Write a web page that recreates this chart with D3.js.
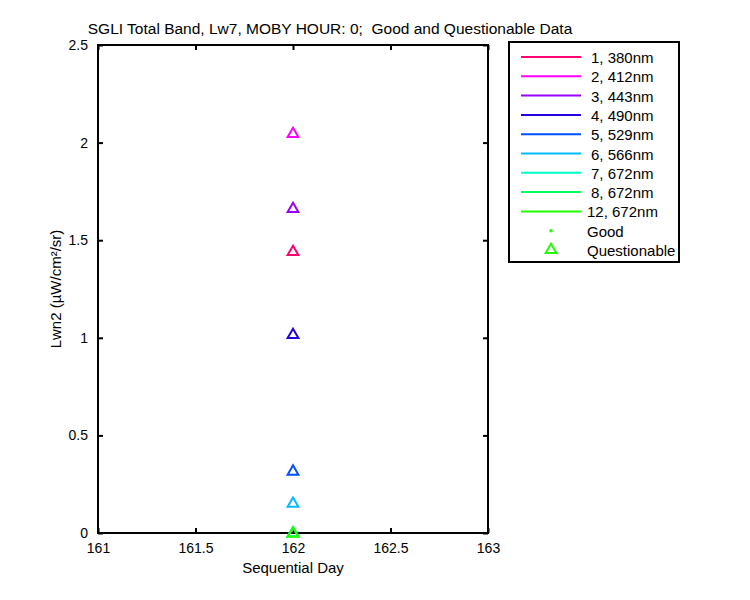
<!DOCTYPE html>
<html>
<head>
<meta charset="utf-8">
<script src="https://cdn.jsdelivr.net/npm/d3@7"></script>
<style>
  body { margin: 0; background: #fff; }
  text { font-family: "Liberation Sans", Arial, sans-serif; }
</style>
</head>
<body>
<div class="chart"></div>
<script>
// band names shown in the legend
var bands = ["1, 380nm", "2, 412nm", "3, 443nm", "4, 490nm", "5, 529nm", "6, 566nm", "7, 672nm", "8, 672nm", "12, 672nm"];
var bandColors = ["#ff0070", "#ff00ff", "#9900ff", "#2200e0", "#0050ff", "#00bbff", "#00ffcc", "#00ff66", "#22ff00"];

// one questionable point per band, all on day 162
var days = [162, 162, 162, 162, 162, 162, 162, 162, 162];
var lwn = [1.445, 2.05, 1.665, 1.02, 0.32, 0.155, 0.004, 0.003, 0.002];

var xTicks = [161, 161.5, 162, 162.5, 163];
var yTicks = [0, 0.5, 1, 1.5, 2, 2.5];

var svgWidth = 750, svgHeight = 600;
var margin = { top: 45, left: 98 };
var chartWidth = 390, chartHeight = 488;

var svg = d3.select(".chart").append("svg")
  .attr("width", svgWidth)
  .attr("height", svgHeight);

var chart = svg.append("g")
  .attr("transform", "translate(" + margin.left + "," + margin.top + ")");

var x = d3.scaleLinear().domain([161, 163]).range([0, chartWidth]);
var y = d3.scaleLinear().domain([0, 2.5]).range([chartHeight, 0]);

// axes with inward ticks, on all four sides
var fmt = function(d) { return d3.format("")(d); };
var bottomAxis = d3.axisBottom(x).tickValues(xTicks).tickFormat(fmt).tickSizeInner(-5).tickSizeOuter(0).tickPadding(10);
var topAxis = d3.axisTop(x).tickValues(xTicks).tickFormat("").tickSizeInner(-5).tickSizeOuter(0);
var leftAxis = d3.axisLeft(y).tickValues(yTicks).tickFormat(fmt).tickSizeInner(-5).tickSizeOuter(0).tickPadding(10);
var rightAxis = d3.axisRight(y).tickValues(yTicks).tickFormat("").tickSizeInner(-5).tickSizeOuter(0);

function styleAxis(g) {
  g.select(".domain").remove();
  g.selectAll("line").attr("stroke", "#000").attr("stroke-width", 2);
  g.selectAll("text").attr("font-size", 14).attr("fill", "#000")
    .style("font-family", "Liberation Sans, Arial, sans-serif");
}

chart.append("g").attr("transform", "translate(0," + chartHeight + ")").call(bottomAxis).call(styleAxis);
chart.append("g").call(topAxis).call(styleAxis);
chart.append("g").call(leftAxis).call(styleAxis);
chart.append("g").attr("transform", "translate(" + chartWidth + ",0)").call(rightAxis).call(styleAxis);

chart.append("rect")
  .attr("width", chartWidth).attr("height", chartHeight)
  .attr("fill", "none").attr("stroke", "#000").attr("stroke-width", 2);

// triangle markers
var tri = d3.symbol().type(d3.symbolTriangle).size(50);
chart.selectAll("path.pt")
  .data(lwn)
  .enter().append("path")
  .attr("class", "pt")
  .attr("d", tri)
  .attr("transform", function(d, i) { return "translate(" + x(days[i]) + "," + (y(d) + 1) + ")"; })
  .attr("fill", "none")
  .attr("stroke", function(d, i) { return bandColors[i]; })
  .attr("stroke-width", 2);

// title and axis labels
svg.append("text").attr("x", 330).attr("y", 34).attr("text-anchor", "middle")
  .attr("font-size", 15.5).style("white-space", "pre")
  .text("SGLI Total Band, Lw7, MOBY HOUR: 0;  Good and Questionable Data");
svg.append("text").attr("x", margin.left + chartWidth / 2).attr("y", 573).attr("text-anchor", "middle")
  .attr("font-size", 15).text("Sequential Day");
svg.append("text").attr("transform", "translate(61," + (margin.top + chartHeight / 2) + ") rotate(-90)")
  .attr("text-anchor", "middle").attr("font-size", 15).text("Lwn2 (µW/cm²/sr)");

// legend
var legend = svg.append("g").attr("transform", "translate(509,42)");
legend.append("rect").attr("width", 170).attr("height", 220)
  .attr("fill", "#fff").attr("stroke", "#000").attr("stroke-width", 2);

var rows = legend.selectAll("g.row")
  .data(bands)
  .enter().append("g")
  .attr("class", "row")
  .attr("transform", function(d, i) { return "translate(0," + (15 + i * 19.3) + ")"; });
rows.append("line").attr("x1", 12).attr("x2", 72)
  .attr("stroke", function(d, i) { return bandColors[i]; }).attr("stroke-width", 2);
rows.append("text").attr("x", function(d) { return d.length > 8 ? 78 : 82; }).attr("y", 6)
  .attr("font-size", 15).text(function(d) { return d; });

var gy = 15 + 9 * 19.3;
legend.append("circle").attr("cx", 42).attr("cy", gy).attr("r", 1.8).attr("fill", "#22ff00");
legend.append("text").attr("x", 78).attr("y", gy + 6).attr("font-size", 15).text("Good");
legend.append("path").attr("d", tri)
  .attr("transform", "translate(42," + (gy + 19.3) + ")")
  .attr("fill", "none").attr("stroke", "#22ff00").attr("stroke-width", 2);
legend.append("text").attr("x", 78).attr("y", gy + 19.3 + 6).attr("font-size", 15).text("Questionable");
</script>
</body>
</html>
